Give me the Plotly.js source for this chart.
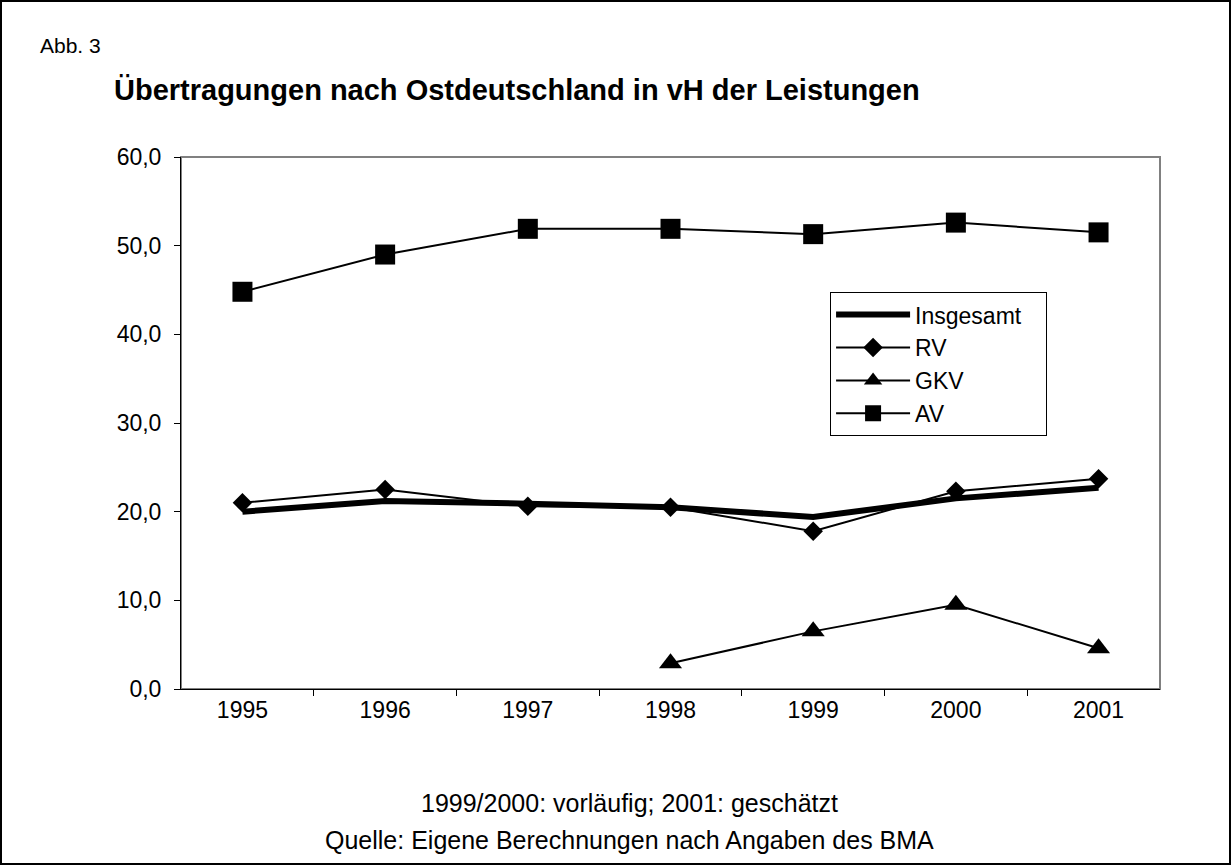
<!DOCTYPE html>
<html>
<head>
<meta charset="utf-8">
<script src="https://cdn.plot.ly/plotly-3.0.1.min.js"></script>
<style>
html,body{margin:0;padding:0;background:#fff;}
#frame{position:absolute;left:0;top:0;width:1231px;height:865px;box-sizing:border-box;border:2px solid #000;background:#fff;}
#chart{position:absolute;left:0;top:0;width:1227px;height:861px;}
</style>
</head>
<body>
<div id="frame"><div id="chart"></div></div>
<script>
const years = ['1995','1996','1997','1998','1999','2000','2001'];
const seriesNames = ['Insgesamt', 'RV', 'GKV', 'AV'];
const insgesamt = [20.0, 21.2, 20.9, 20.5, 19.4, 21.5, 22.7];
const rv = [21.0, 22.5, 20.6, 20.5, 17.8, 22.3, 23.7];
const gkv = [null, null, null, 2.9, 6.5, 9.5, 4.6];
const av = [44.8, 49.0, 51.9, 51.9, 51.3, 52.6, 51.5];
const yTicks = [0, 10, 20, 30, 40, 50, 60];

const FONT = 'Liberation Sans, Arial, sans-serif';

const traces = [
  {x: years, y: insgesamt, name: seriesNames[0] + '\u00a0\u00a0\u00a0', type: 'scatter', mode: 'lines',
   line: {color: '#000', width: 6}},
  {x: years, y: rv, name: seriesNames[1], type: 'scatter', mode: 'lines+markers',
   line: {color: '#000', width: 2}, marker: {symbol: 'diamond', size: 15, color: '#000'}},
  {x: years, y: gkv, name: seriesNames[2], type: 'scatter', mode: 'lines+markers',
   line: {color: '#000', width: 2}, marker: {symbol: 'triangle-up', size: 20, color: '#000'}},
  {x: years, y: av, name: seriesNames[3], type: 'scatter', mode: 'lines+markers',
   line: {color: '#000', width: 2}, marker: {symbol: 'square', size: 20, color: '#000'}}
];

const layout = {
  width: 1227, height: 861,
  margin: {l: 179, r: 69, t: 155, b: 174},
  paper_bgcolor: '#fff', plot_bgcolor: '#fff',
  separators: ',.',
  font: {family: FONT, size: 22, color: '#000'},
  showlegend: true,
  legend: {x: 0.663, y: 0.746, xanchor: 'left', yanchor: 'top',
    bordercolor: '#000', borderwidth: 1, bgcolor: '#fff',
    font: {family: FONT, size: 23, color: '#000'}, itemwidth: 74,
    tracegroupgap: 0},
  xaxis: {type: 'category', categoryorder: 'array', categoryarray: years,
    tickson: 'boundaries', ticks: 'outside', ticklen: 6, tickcolor: '#000',
    showline: true, linecolor: '#000', linewidth: 1, showgrid: false, zeroline: false,
    tickfont: {family: FONT, size: 23, color: '#000'}, fixedrange: true},
  yaxis: {range: [0, 60], tickvals: yTicks, tickformat: '.1f',
    ticks: 'outside', ticklen: 6, tickcolor: '#000', ticklabelstandoff: 8,
    showline: true, linecolor: '#000', linewidth: 1, showgrid: false, zeroline: false,
    tickfont: {family: FONT, size: 23, color: '#000'}, fixedrange: true},
  shapes: [
    {type: 'rect', xref: 'paper', yref: 'paper', x0: 0, x1: 1, y0: 0, y1: 1,
     line: {color: '#808080', width: 2}, layer: 'below'}
  ],
  annotations: [
    {text: 'Abb. 3', xref: 'paper', yref: 'paper', x: -0.146, y: 1.2105,
     xanchor: 'left', yanchor: 'middle', showarrow: false,
     font: {family: FONT, size: 21, color: '#000'}},
    {text: '<b>Übertragungen nach Ostdeutschland in vH der Leistungen</b>', xref: 'paper', yref: 'paper',
     x: 0.343, y: 1.126, xanchor: 'center', yanchor: 'middle', showarrow: false,
     font: {family: FONT, size: 29, color: '#000'}},
    {text: '1999/2000: vorläufig; 2001: geschätzt', xref: 'paper', yref: 'paper',
     x: 0.4586, y: -0.2143, xanchor: 'center', yanchor: 'middle', showarrow: false,
     font: {family: FONT, size: 25, color: '#000'}},
    {text: 'Quelle: Eigene Berechnungen nach Angaben des BMA', xref: 'paper', yref: 'paper',
     x: 0.4586, y: -0.2838, xanchor: 'center', yanchor: 'middle', showarrow: false,
     font: {family: FONT, size: 25, color: '#000'}}
  ]
};

Plotly.newPlot('chart', traces, layout, {displayModeBar: false, staticPlot: true});
</script>
</body>
</html>
